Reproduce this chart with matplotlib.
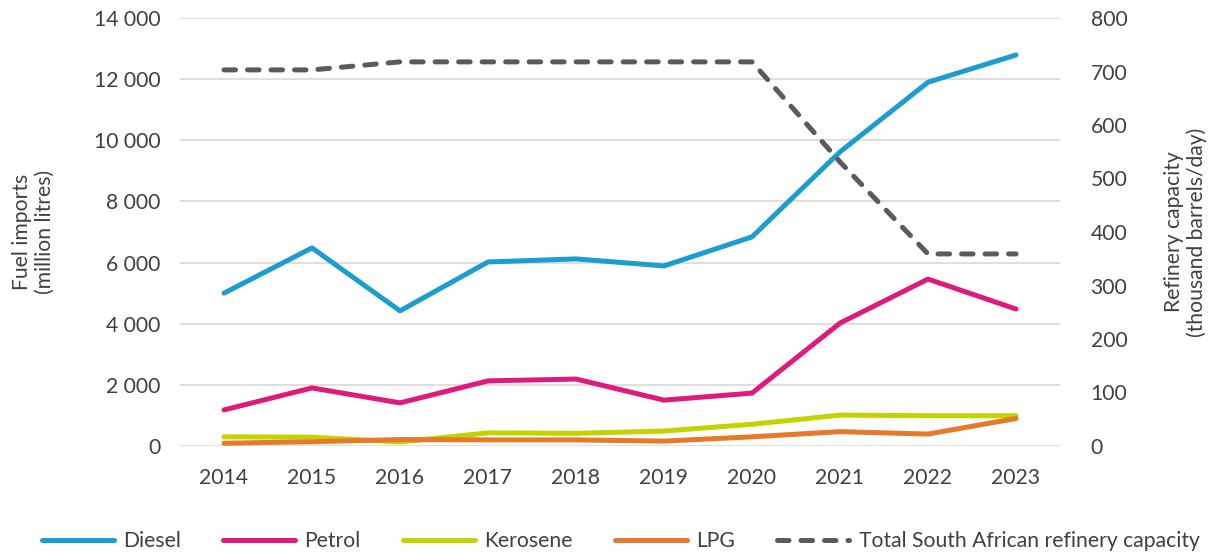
import matplotlib
matplotlib.use("Agg")
import matplotlib.pyplot as plt
from matplotlib.ticker import FuncFormatter

years = [2014, 2015, 2016, 2017, 2018, 2019, 2020, 2021, 2022, 2023]
diesel = [5000, 6480, 4420, 6020, 6120, 5890, 6840, 9620, 11900, 12790]
petrol = [1180, 1900, 1410, 2130, 2190, 1500, 1730, 4020, 5460, 4480]
kerosene = [300, 290, 130, 430, 415, 490, 710, 1010, 990, 990]
lpg = [90, 140, 210, 200, 200, 160, 300, 470, 390, 900]
capacity = [703, 703, 718, 718, 718, 718, 718, 531, 359, 359]

plt.rcParams['font.family'] = ['Lato', 'DejaVu Sans']
txt = '#404040'
fs = 15.2

fig = plt.figure(figsize=(12.1, 5.52), dpi=100)
ax = fig.add_axes([180/1210, 1-446/552, 880/1210, 428/552])
ax2 = ax.twinx()

lw = 3.6
kw = dict(lw=lw, solid_capstyle='round', solid_joinstyle='round')
l1, = ax.plot(years, diesel, color='#1b9dd0', label='Diesel', **kw)
l2, = ax.plot(years, petrol, color='#e0197d', label='Petrol', **kw)
l3, = ax.plot(years, kerosene, color='#c3d300', label='Kerosene', **kw)
l4, = ax.plot(years, lpg, color='#e8782a', label='LPG', **kw)
l5, = ax2.plot(years, capacity, color='#5a5a5a', lw=lw, ls=(0, (2.3, 2.4)),
               dash_capstyle='round', label='Total South African refinery capacity')

ax.set_xlim(2013.5, 2023.5)
ax.set_ylim(0, 14000)
ax2.set_ylim(0, 800)
ax.set_yticks(range(0, 14001, 2000))
ax2.set_yticks(range(0, 801, 100))
ax.set_xticks(years)
ax.yaxis.set_major_formatter(FuncFormatter(lambda v, p: f"{int(v):,}".replace(',', ' ')))

ax.grid(axis='y', color='#d9d9d9', lw=1.2)
ax.set_axisbelow(True)
for a in (ax, ax2):
    for s in a.spines.values():
        s.set_visible(False)
    a.tick_params(length=0, labelsize=fs, colors=txt)
ax.tick_params(axis='y', pad=14)
ax.tick_params(axis='x', pad=16)
ax2.tick_params(axis='y', pad=22)

ax.set_ylabel('Fuel imports\n(million litres)', fontsize=fs, color=txt, labelpad=28)
ax2.set_ylabel('Refinery capacity\n(thousand barrels/day)', fontsize=fs, color=txt,
               labelpad=26, rotation=90)

fig.legend(handles=[l1, l2, l3, l4, l5], loc='center', ncol=5,
           bbox_to_anchor=(0.513, 1-541/552), frameon=False, fontsize=fs,
           handlelength=3.4, columnspacing=2.0, handletextpad=0.45,
           labelcolor=txt, borderpad=0)

fig.savefig('out.png', dpi=100)
